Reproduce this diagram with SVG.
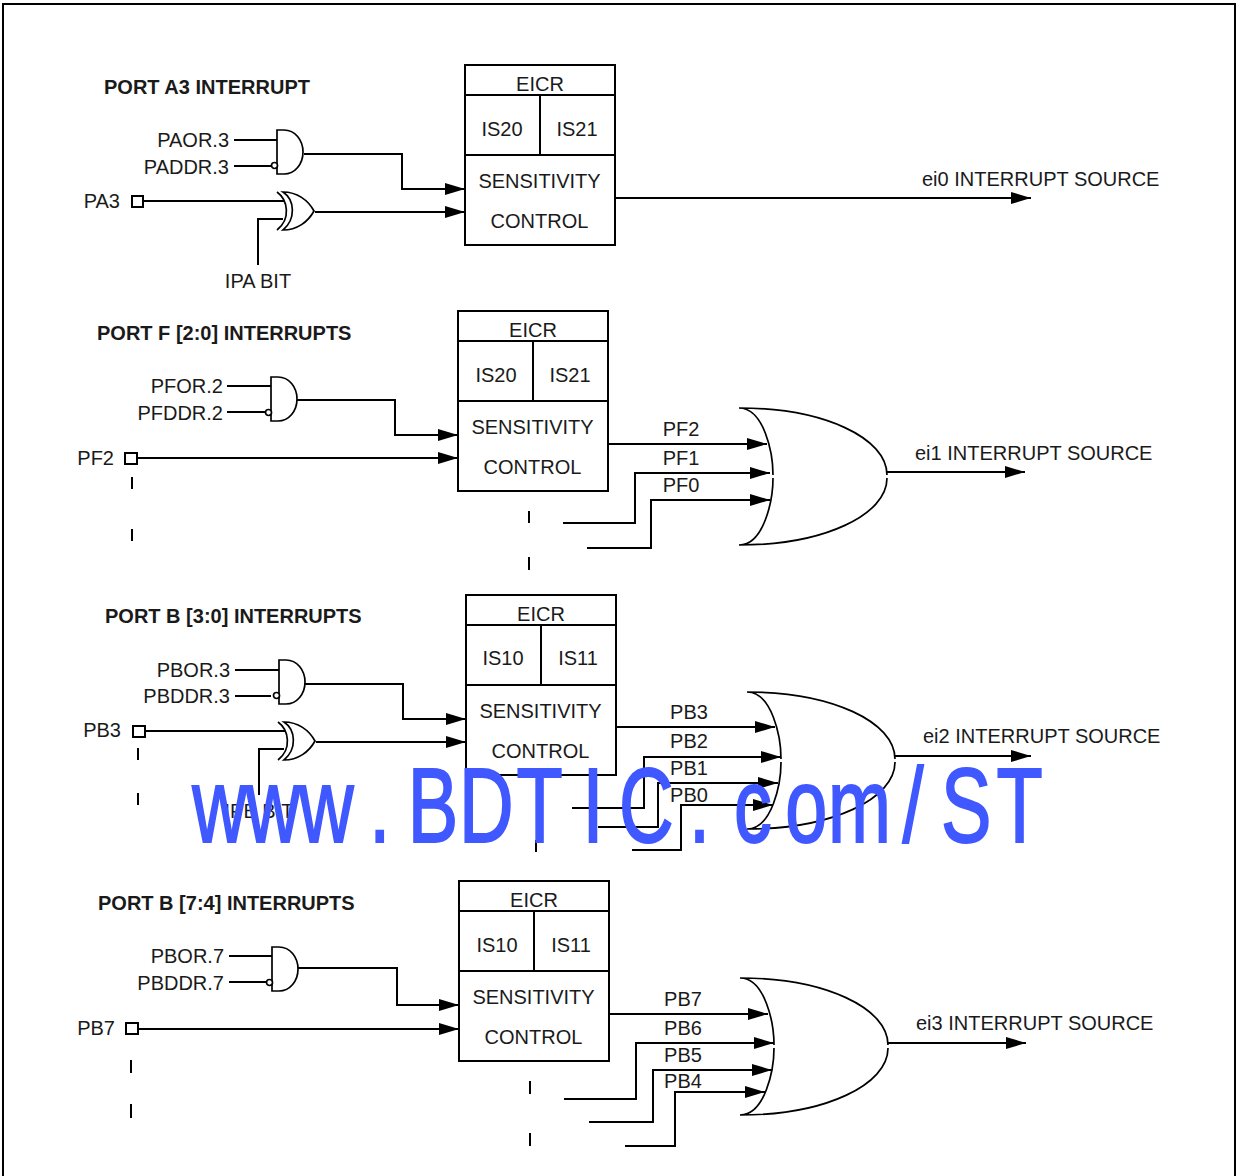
<svg xmlns="http://www.w3.org/2000/svg" width="1239" height="1176" viewBox="0 0 1239 1176">
<style>
text{font-family:"Liberation Sans",Arial,sans-serif;font-size:20px;fill:#1a1a1a}
.t{font-weight:bold;font-size:20px}
.m{text-anchor:middle}
.e{text-anchor:end}
.l{fill:none;stroke:#000;stroke-width:2}
.a{fill:none;stroke:#000;stroke-width:2;marker-end:url(#ah)}
.g{fill:none;stroke:#000;stroke-width:1.7}
.w{fill:#fff;stroke:#000;stroke-width:1.7}
.b{fill:#fff;stroke:#000;stroke-width:2}
.wm{font-size:105px;fill:#4058ff;stroke:#4058ff;stroke-width:2;text-anchor:middle}
</style>
<defs>
<marker id="ah" markerUnits="userSpaceOnUse" markerWidth="20" markerHeight="12" refX="20" refY="6" orient="auto"><path d="M0 0L20 6L0 12Z" fill="#000"/></marker>
<g id="and"><path class="w" d="M0 0H7C18 0 26 10 26 22C26 34 18 44 7 44H0Z"/><circle class="w" cx="-2.500" cy="35.500" r="3"/></g>
<g id="xor"><path class="g" d="M0 0C11 8 14 27 0 38"/><path class="w" d="M6 0C20 0 31 8 37 19C31 30 20 38 6 38C19 27 18 8 6 0Z"/></g>
<g id="or"><path class="g" d="M0 0C85 0 148 30 148 67M148 70C148 107 85 137 0 137M0 0C25 0 34 45 34 67M34 70C34 92 25 137 0 137"/></g>
<g id="eicr"><rect class="b" width="150" height="180"/><path class="l" d="M0 30H150M0 90H150M75 30V90"/><text class="m" x="75" y="26">EICR</text><text class="m" x="74.500" y="123">SENSITIVITY</text><text class="m" x="74.500" y="163">CONTROL</text></g>
</defs>
<rect id="frame" x="3" y="4" width="1232" height="1200" fill="#fff" stroke="#000" stroke-width="2"/>
<g id="connectors">
<path class="l" d="M234 140H277M234 166H271"/>
<path class="l" d="M144 201H284M258 265V219H283"/>
<path class="a" d="M304 154H402V189H465"/>
<path class="a" d="M315 212H465"/>
<path class="a" d="M615 198H1031"/>
<path class="l" d="M227 386H271M227 412H265"/>
<path class="a" d="M297 400H395V435H458"/>
<path class="a" d="M138 458H458"/>
<path class="l" d="M132 477V489M132 529V541M529 511V523M529 557V570"/>
<path class="a" d="M608 444H767"/>
<path class="a" d="M563 523H635V473H770"/>
<path class="a" d="M587 548H651V500H770"/>
<path class="a" d="M887 472H1025"/>
<path class="l" d="M235 670H279M235 696H271"/>
<path class="l" d="M145 731H285M259 795V749H284"/>
<path class="a" d="M305 684H403V719H466"/>
<path class="a" d="M316 742H466"/>
<path class="l" d="M138 748V760M138 793V805M536 840V852"/>
<path class="a" d="M617 727H775"/>
<path class="a" d="M572 808H644V757H781"/>
<path class="a" d="M598 827H658V783H778"/>
<path class="a" d="M632 850H681V805H773"/>
<path class="a" d="M895 756H1031"/>
<path class="l" d="M229 956H272M229 982H266"/>
<path class="a" d="M298 968H397V1005H459"/>
<path class="a" d="M139 1029H459"/>
<path class="l" d="M131 1060V1073M131 1104V1118M530 1081V1094M530 1133V1146"/>
<path class="a" d="M610 1014H768"/>
<path class="a" d="M564 1099H636V1043H774"/>
<path class="a" d="M589 1122H653V1070H772"/>
<path class="a" d="M625 1146H675V1092H765"/>
<path class="a" d="M888 1043H1026"/>
</g>
<g id="section-a">
<text id="title-a" class="t" x="104" y="94">PORT A3 INTERRUPT</text>
<g id="and-a"><use href="#and" x="277" y="130"/><text class="e" x="229" y="147">PAOR.3</text><text class="e" x="229" y="174">PADDR.3</text></g>
<g id="pin-pa3"><rect class="b" x="132" y="196" width="11" height="11"/><text class="e" x="120" y="208">PA3</text></g>
<g id="xor-a"><use href="#xor" x="277" y="192"/><text class="m" x="258" y="288">IPA BIT</text></g>
<g id="eicr-a"><use href="#eicr" x="465" y="65"/><text class="m" x="502" y="136">IS20</text><text class="m" x="577" y="136">IS21</text></g>
<text id="out-0" x="922" y="186">ei0 INTERRUPT SOURCE</text>
</g>
<g id="section-f">
<text id="title-f" class="t" x="97" y="340">PORT F [2:0] INTERRUPTS</text>
<g id="and-f"><use href="#and" x="271" y="377"/><text class="e" x="223" y="393">PFOR.2</text><text class="e" x="223" y="420">PFDDR.2</text></g>
<g id="pin-pf2"><rect class="b" x="125" y="453" width="12" height="11"/><text class="e" x="114" y="465">PF2</text></g>
<g id="eicr-f"><use href="#eicr" x="458" y="311"/><text class="m" x="496" y="382">IS20</text><text class="m" x="570" y="382">IS21</text></g>
<g id="or-f"><use href="#or" x="739" y="408"/><text class="m" x="681" y="436">PF2</text><text class="m" x="681" y="465">PF1</text><text class="m" x="681" y="492">PF0</text></g>
<text id="out-1" x="915" y="460">ei1 INTERRUPT SOURCE</text>
</g>
<g id="section-b3">
<text id="title-b3" class="t" x="105" y="623">PORT B [3:0] INTERRUPTS</text>
<g id="and-b3"><use href="#and" x="279" y="660"/><text class="e" x="230" y="677">PBOR.3</text><text class="e" x="230" y="703">PBDDR.3</text></g>
<g id="pin-pb3"><rect class="b" x="133" y="726" width="12" height="11"/><text class="e" x="121" y="737">PB3</text></g>
<g id="xor-b3"><use href="#xor" x="278" y="722"/><text class="m" x="259" y="818">IPB BIT</text></g>
<g id="eicr-b3"><use href="#eicr" x="466" y="595"/><text class="m" x="503" y="665">IS10</text><text class="m" x="578" y="665">IS11</text></g>
<g id="or-b3"><use href="#or" x="747" y="692"/><text class="m" x="689" y="719">PB3</text><text class="m" x="689" y="748">PB2</text><text class="m" x="689" y="775">PB1</text><text class="m" x="689" y="802">PB0</text></g>
<text id="out-2" x="923" y="743">ei2 INTERRUPT SOURCE</text>
</g>
<g id="section-b7">
<text id="title-b7" class="t" x="98" y="910">PORT B [7:4] INTERRUPTS</text>
<g id="and-b7"><use href="#and" x="272" y="947"/><text class="e" x="224" y="963">PBOR.7</text><text class="e" x="224" y="990">PBDDR.7</text></g>
<g id="pin-pb7"><rect class="b" x="126" y="1023" width="12" height="11"/><text class="e" x="115" y="1035">PB7</text></g>
<g id="eicr-b7"><use href="#eicr" x="459" y="881"/><text class="m" x="497" y="952">IS10</text><text class="m" x="571" y="952">IS11</text></g>
<g id="or-b7"><use href="#or" x="740" y="978"/><text class="m" x="683" y="1006">PB7</text><text class="m" x="683" y="1035">PB6</text><text class="m" x="683" y="1062">PB5</text><text class="m" x="683" y="1088">PB4</text></g>
<text id="out-3" x="916" y="1030">ei3 INTERRUPT SOURCE</text>
</g>
<text id="watermark" class="wm" transform="translate(0,842) scale(.72,1)" x="305.1 379.2 453.3 527.3 601.4 675.4 749.5 823.6 897.6 971.7 1045.8 1119.8 1193.9 1268 1342 1416.1" y="0">www.BDTIC.com/ST</text>
</svg>
